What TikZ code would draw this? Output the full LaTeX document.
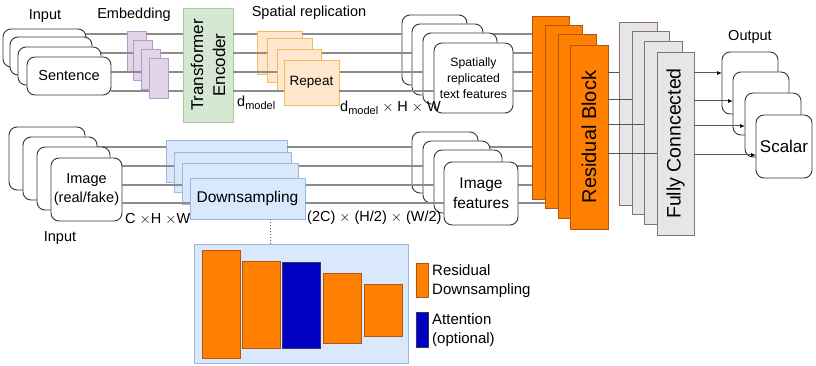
\documentclass[tikz,border=0pt]{standalone}
\usepackage{fontspec}
\setmainfont{Liberation Sans}
\usetikzlibrary{arrows.meta}
\definecolor{lnc}{HTML}{8C8C8C}
\definecolor{ln2c}{HTML}{555555}
\definecolor{bord}{HTML}{333333}
\definecolor{embf}{HTML}{E1D5E7}\definecolor{embd}{HTML}{B59ACB}
\definecolor{tef}{HTML}{D5E8D4}\definecolor{ted}{HTML}{A8CC98}
\definecolor{repf}{HTML}{FFE6CC}\definecolor{repd}{HTML}{EDBE5A}
\definecolor{dsf}{HTML}{DAE8FC}\definecolor{dsd}{HTML}{9DB8E0}
\definecolor{orf}{HTML}{FF8000}\definecolor{ord}{HTML}{B4540F}
\definecolor{fcf}{HTML}{E6E6E6}\definecolor{fcd}{HTML}{8A7272}
\definecolor{atf}{HTML}{0000C0}\definecolor{atd}{HTML}{40306A}
\tikzset{
  every node/.style={font=\fontsize{14.5}{17}\selectfont},
  bx/.style={inner sep=0pt, outer sep=0pt, anchor=north west, line width=0.9pt},
  rbox/.style={bx, draw=bord, fill=white, rounded corners=8pt},
  embbox/.style={bx, draw=embd, fill=embf, minimum width=19pt, minimum height=40pt},
  tebox/.style={bx, draw=ted, fill=tef},
  repbox/.style={bx, draw=repd, fill=repf},
  dsbox/.style={bx, draw=dsd, fill=dsf},
  orbox/.style={bx, draw=ord, fill=orf},
  fcbox/.style={bx, draw=fcd, fill=fcf},
  atbox/.style={bx, draw=atd, fill=atf},
  ln/.style={draw=lnc, line width=1.3pt},
  lnb/.style={draw=ln2c, line width=1pt},
  arr/.style={draw=ln2c, line width=1pt, -{Latex[length=5pt,width=4pt,color=black]}},
  lbl/.style={inner sep=0pt, anchor=west},
}
\newcommand\dsub[1]{d\raisebox{-0.45ex}{\fontsize{11}{11}\selectfont #1}}
\newcommand\txtlines[1]{%
  \draw[ln] (s#1.east|-ty#1) -- (e#1.west|-ty#1)
            (e#1.east|-ty#1) -- (te.west|-ty#1)
            (te.east|-ty#1) -- (r#1.west|-ty#1)
            (r#1.east|-ty#1) -- (sr#1.west|-ty#1)
            (sr#1.east|-ty#1) -- (rb1.west|-ty#1);}
\newcommand\imglines[2]{%
  \draw[ln] (im#1.east|-iy#1) -- (ds#1.west|-iy#1)
            (ds#1.east|-iy#1) -- (if#1.west|-iy#1)
            (if#1.east|-iy#1) -- (#2.west|-iy#1);}
\begin{document}
\begin{tikzpicture}[x=1pt,y=-1pt]
\useasboundingbox (0,0) rectangle (816,366);
\foreach \n/\v in {1/34,2/53,3/72,4/91}{\coordinate (ty\n) at (0,\v);}
\foreach \n/\v in {1/147,2/166,3/185,4/203}{\coordinate (iy\n) at (0,\v);}
\foreach \n/\v in {1/73,2/100,3/125,4/154}{\coordinate (fy\n) at (0,\v);}
\foreach \n/\v in {1/73,2/101,3/126,4/155}{\coordinate (oy\n) at (0,\v);}
\coordinate (dx) at (270,0);

% labels
\node (lin1) at (45,16) {Input};
\node (lemb) at (134,15) {Embedding};
\node (lsp) at (309,13) {Spatial replication};
\node (lout) at (750,37) {Output};
\node (lin2) at (60,238) {Input};

% ---- layer 1
\node[rbox, minimum width=83pt, minimum height=38pt] (s1) at (3,29) {};
\node[embbox] (e1) at (127,31) {};
\node[tebox, minimum width=50pt, minimum height=114pt] (te) at (183,8) {};
\node[rotate=90, align=center, font=\fontsize{17}{22}\selectfont] (tet) at (te.center) {Transformer\\Encoder};
\node[repbox, minimum width=45pt, minimum height=43pt] (r1) at (257,31) {};
\node[rbox, minimum width=65pt, minimum height=70pt] (sr1) at (402,15) {};
\node[orbox, minimum width=37pt, minimum height=183pt] (rb1) at (532,16) {};
\node[fcbox, minimum width=38pt, minimum height=183pt] (fc1) at (619,22) {};
\node[rbox, minimum width=56pt, minimum height=62pt] (o1) at (722,52) {};
\node[rbox, minimum width=76pt, minimum height=63pt] (im1) at (9,127) {};
\node[dsbox, minimum width=121pt, minimum height=42pt] (ds1) at (166,140) {};
\node[rbox, minimum width=66pt, minimum height=61pt] (if1) at (412,132) {};
\txtlines{1}
\imglines{1}{rb1}

% ---- layer 2
\node[rbox, minimum width=82pt, minimum height=38pt] (s2) at (10,37) {};
\node[embbox] (e2) at (133,40) {};
\node[repbox, minimum width=45pt, minimum height=44pt] (r2) at (267,38) {};
\node[rbox, minimum width=71pt, minimum height=71pt] (sr2) at (412,24) {};
\node[orbox, minimum width=37pt, minimum height=183pt] (rb2) at (545,25) {};
\node[fcbox, minimum width=37pt, minimum height=183pt] (fc2) at (632,31) {};
\node[rbox, minimum width=56pt, minimum height=63pt] (o2) at (733,72) {};
\node[rbox, minimum width=74pt, minimum height=63pt] (im2) at (23,137) {};
\node[dsbox, minimum width=117pt, minimum height=40pt] (ds2) at (174,152) {};
\node[rbox, minimum width=67pt, minimum height=62pt] (if2) at (423,141) {};
\txtlines{2}
\imglines{2}{rb1}

% ---- layer 3
\node[rbox, minimum width=83pt, minimum height=38pt] (s3) at (18,47) {};
\node[embbox] (e3) at (141,49) {};
\node[repbox, minimum width=44pt, minimum height=42pt] (r3) at (277,49) {};
\node[rbox, minimum width=74pt, minimum height=71pt] (sr3) at (423,33) {};
\node[orbox, minimum width=38pt, minimum height=184pt] (rb3) at (558,34) {};
\node[fcbox, minimum width=38pt, minimum height=183pt] (fc3) at (644,41) {};
\node[rbox, minimum width=56pt, minimum height=64pt] (o3) at (745,93) {};
\node[rbox, minimum width=73pt, minimum height=63pt] (im3) at (37,147) {};
\node[dsbox, minimum width=116pt, minimum height=41pt] (ds3) at (182,163) {};
\node[rbox, minimum width=68pt, minimum height=63pt] (if3) at (434,150) {};
\txtlines{3}
\imglines{3}{rb1}

% ---- layer 4
\node[rbox, minimum width=84pt, minimum height=38pt] (s4) at (27,57) {};
\node (s4t) at (s4.center) {Sentence};
\node[embbox] (e4) at (149,58) {};
\node[repbox, minimum width=55pt, minimum height=45pt] (r4) at (284,60) {};
\node[font=\fontsize{13.5}{16}\selectfont] (r4t) at (r4.center) {Repeat};
\node[rbox, minimum width=79pt, minimum height=70pt] (sr4) at (434,43) {};
\node[align=center, font=\fontsize{12.2}{16}\selectfont] (sr4t) at (sr4.center) {Spatially\\replicated\\text features};
\node[orbox, minimum width=38pt, minimum height=184pt] (rb4) at (570,45) {};
\node[rotate=90, font=\fontsize{20}{24}\selectfont] (rb4t) at (rb4.center) {Residual Block};
\node[fcbox, minimum width=37pt, minimum height=183pt] (fc4) at (657,52) {};
\node[rotate=90, font=\fontsize{19.5}{24}\selectfont] (fc4t) at (fc4.center) {Fully Conncected};
\node[rbox, minimum width=56pt, minimum height=63pt] (o4) at (756,115) {};
\node[font=\fontsize{17}{20}\selectfont] (o4t) at (o4.center) {Scalar};
\node[rbox, minimum width=71pt, minimum height=63pt] (im4) at (51,158) {};
\node[align=center, font=\fontsize{14.5}{19}\selectfont] (im4t) at (im4.center) {Image\\(real/fake)};
\node[dsbox, minimum width=115pt, minimum height=41pt] (ds4) at (190,178) {};
\node[font=\fontsize{15.5}{18}\selectfont] (ds4t) at (ds4.center) {Downsampling};
\node[rbox, minimum width=74pt, minimum height=63pt] (if4) at (444,162) {};
\node[align=center, font=\fontsize{15.5}{20}\selectfont] (if4t) at (if4.center) {Image\\features};
\txtlines{4}
\imglines{4}{rb2}

% residual -> fully connected
\foreach \n in {1,2,3,4}{\draw[lnb] (rb4.east|-fy\n) -- (fc\n.west|-fy\n);}
% fully connected -> outputs
\foreach \n in {1,2,3,4}{\draw[arr] (fc4.east|-oy\n) -- (o\n.west|-oy\n);}

% dimension labels
\node[lbl] (ld1) at (237,103) {\dsub{model}};
\node[lbl] (ld2) at (340,108) {\dsub{model} $\times$ H $\times$ W};
\node[lbl] (ld3) at (125,219) {C $\times$H $\times$W};
\node[lbl] (ld4) at (307,218) {(2C) $\times$ (H/2) $\times$ (W/2)};

% detail box
\node[dsbox, minimum width=214pt, minimum height=119pt] (det) at (194,244) {};
\draw[dotted, line width=1pt, draw=ln2c] (ds4.south-|dx) -- (det.north-|dx);
\node[orbox, minimum width=38pt, minimum height=108pt] (b1) at (202,250) {};
\node[orbox, minimum width=38pt, minimum height=87pt] (b2) at (242,261) {};
\node[atbox, minimum width=38pt, minimum height=86pt] (b3) at (282,262) {};
\node[orbox, minimum width=38pt, minimum height=70pt] (b4) at (323,273) {};
\node[orbox, minimum width=38pt, minimum height=52pt] (b5) at (364,284) {};
% legend
\node[orbox, minimum width=12pt, minimum height=34pt] (lg1) at (416,263) {};
\node[lbl, align=left, font=\fontsize{15}{19}\selectfont] (lg1t) at (432,281) {Residual\\Downsampling};
\node[atbox, minimum width=12pt, minimum height=35pt] (lg2) at (416,312) {};
\node[lbl, align=left, font=\fontsize{15}{19}\selectfont] (lg2t) at (432,330) {Attention\\(optional)};
\end{tikzpicture}
\end{document}
